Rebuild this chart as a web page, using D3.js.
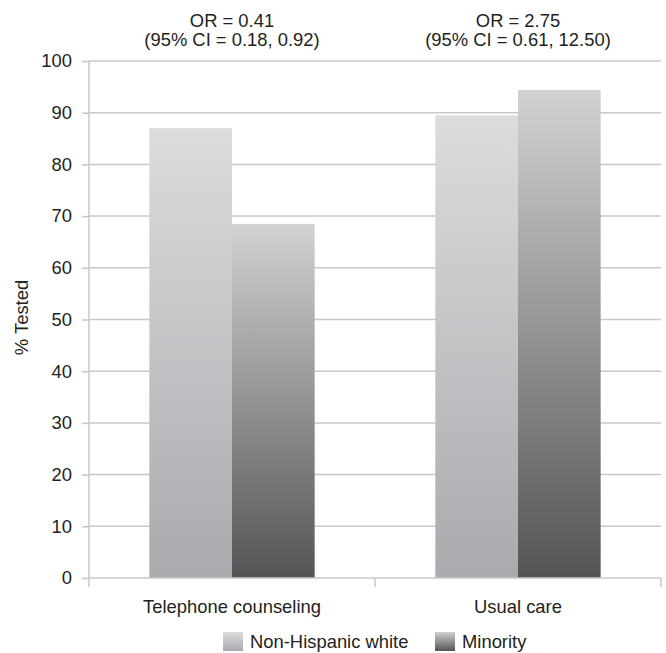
<!DOCTYPE html>
<html>
<head>
<meta charset="utf-8">
<script src="https://cdn.jsdelivr.net/npm/d3@7"></script>
<style>
  body { margin: 0; background: #fff; }
  text { font-family: "Liberation Sans", Arial, sans-serif; fill: #231f20; }
</style>
</head>
<body>
<div id="chart"></div>
<script>
// chart values
const categories = ["Telephone counseling", "Usual care"];
const groups = ["Non-Hispanic white", "Minority"];
const nhwValues = [87.0, 89.5];
const minorityValues = [68.5, 94.4];
const orLabels = ["OR = 0.41", "OR = 2.75"];
const ciLabels = ["(95% CI = 0.18, 0.92)", "(95% CI = 0.61, 12.50)"];
const yTicks = [0, 10, 20, 30, 40, 50, 60, 70, 80, 90, 100];

const W = 666, H = 653;
const margin = {top: 61, right: 5, bottom: 75, left: 89};
const width = W - margin.left - margin.right,
    height = H - margin.top - margin.bottom;
const fontSize = "18.4px";

const svg = d3.select("#chart").append("svg")
    .attr("width", W)
    .attr("height", H);

// gradients for the two series
const defs = svg.append("defs");
const gradStops = [
    ["grad-nhw", "#dbdcde", "#a9aaad"],
    ["grad-min", "#d1d2d4", "#545456"]
];
gradStops.forEach(g => {
    const lg = defs.append("linearGradient")
        .attr("id", g[0])
        .attr("x1", 0).attr("y1", 0).attr("x2", 0).attr("y2", 1);
    lg.append("stop").attr("offset", "0%").attr("stop-color", g[1]);
    lg.append("stop").attr("offset", "100%").attr("stop-color", g[2]);
});

const g = svg.append("g")
    .attr("transform", "translate(" + margin.left + "," + margin.top + ")");

const x = d3.scaleBand().domain(categories).range([0, width]);
const xInner = d3.scaleBand().domain(groups)
    .range([0, x.bandwidth()]).paddingOuter(0.73).paddingInner(0);
const y = d3.scaleLinear().domain([0, 100]).range([height, 0]);

// gridlines
g.append("g").selectAll("line")
    .data(yTicks.slice(1))
    .join("line")
    .attr("x1", 0).attr("x2", width)
    .attr("y1", d => y(d)).attr("y2", d => y(d))
    .attr("stroke", "#c8c8ca").attr("stroke-width", 1.5);

// bars
const rows = categories.map((c, i) => ({cat: c, vals: [nhwValues[i], minorityValues[i]]}));
g.append("g").selectAll("g")
    .data(rows)
    .join("g")
    .attr("transform", d => "translate(" + x(d.cat) + ",0)")
    .selectAll("rect")
    .data(d => d.vals.map((v, j) => ({group: groups[j], value: v, j: j})))
    .join("rect")
    .attr("x", d => xInner(d.group))
    .attr("width", xInner.bandwidth())
    .attr("y", d => y(d.value))
    .attr("height", d => height - y(d.value))
    .attr("fill", d => d.j === 0 ? "url(#grad-nhw)" : "url(#grad-min)");

// y axis
const yAxis = g.append("g")
    .call(d3.axisLeft(y).tickValues(yTicks).tickSize(7).tickPadding(10));
yAxis.select(".domain").attr("stroke", "#c8c8ca").attr("stroke-width", 1.5)
    .attr("d", "M0," + (height + 9) + "V0");
yAxis.selectAll(".tick line").attr("stroke", "#c8c8ca").attr("stroke-width", 1.5);
yAxis.selectAll(".tick text").style("font-size", fontSize)
    .style("font-family", "'Liberation Sans', Arial, sans-serif").attr("fill", "#231f20");

// x axis
const xAxis = g.append("g")
    .attr("transform", "translate(0," + height + ")");
xAxis.append("line")
    .attr("x1", 0).attr("x2", width)
    .attr("stroke", "#c8c8ca").attr("stroke-width", 1.5);
xAxis.selectAll(".sep")
    .data([x.step(), width])
    .join("line")
    .attr("class", "sep")
    .attr("x1", d => d).attr("x2", d => d)
    .attr("y1", 0).attr("y2", 9)
    .attr("stroke", "#c8c8ca").attr("stroke-width", 1.5);
xAxis.selectAll("text")
    .data(categories)
    .join("text")
    .attr("x", d => x(d) + x.bandwidth() / 2)
    .attr("y", 35)
    .attr("text-anchor", "middle")
    .style("font-size", fontSize)
    .text(d => d);

// OR annotations above each group
const ann = g.append("g");
categories.forEach((c, i) => {
    const cx = x(c) + x.bandwidth() / 2;
    ann.append("text").attr("x", cx).attr("y", -34)
        .attr("text-anchor", "middle").style("font-size", fontSize).text(orLabels[i]);
    ann.append("text").attr("x", cx).attr("y", -15)
        .attr("text-anchor", "middle").style("font-size", fontSize).text(ciLabels[i]);
});

// y label
svg.append("text")
    .attr("transform", "translate(28," + (margin.top + height / 2 - 2) + ") rotate(-90)")
    .attr("text-anchor", "middle")
    .style("font-size", fontSize)
    .text("% Tested");

// legend
const legendX = [223, 435];
const legend = svg.append("g");
groups.forEach((name, i) => {
    legend.append("rect")
        .attr("x", legendX[i]).attr("y", 632)
        .attr("width", 20).attr("height", 19)
        .attr("fill", i === 0 ? "url(#grad-nhw)" : "url(#grad-min)");
    legend.append("text")
        .attr("x", legendX[i] + 27).attr("y", 648)
        .style("font-size", fontSize)
        .text(name);
});
</script>
</body>
</html>
